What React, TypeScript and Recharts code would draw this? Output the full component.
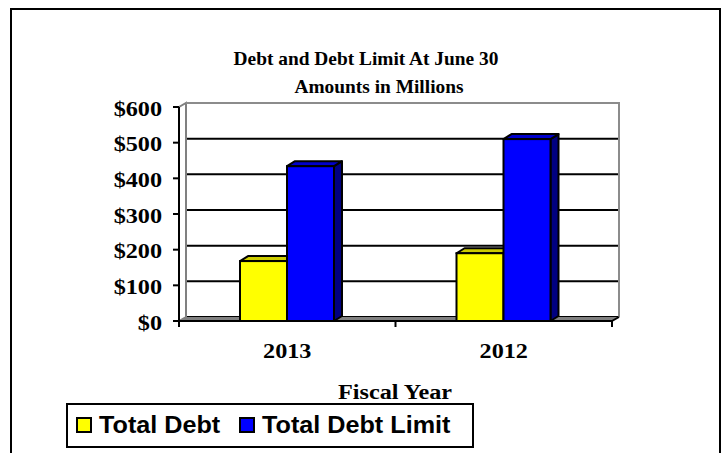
import React from "react";
import { BarChart, Bar, XAxis, YAxis, CartesianGrid, ReferenceArea } from "recharts";

const categories = ["2013", "2012"];
const totalDebt = [168, 190];
const totalDebtLimit = [434, 510];
const yTicks = [0, 100, 200, 300, 400, 500, 600];
const seriesNames = ["Total Debt", "Total Debt Limit"];
const seriesColors = ["#FFFF00", "#0000FF"];
const seriesTopColors = ["#CCCC00", "#0000CC"];
const seriesSideColors = ["#808000", "#000080"];
const titleLines = ["Debt and Debt Limit At June 30", "Amounts in Millions"];
const xAxisTitle = "Fiscal Year";

const data = categories.map((c, i) => ({ year: c, debt: totalDebt[i], limit: totalDebtLimit[i] }));

const DX = 8;
const DY = 5;
const WALL_DX = 7;
const WALL_DY = 4;
const SERIF = "'Liberation Serif', 'Times New Roman', serif";
const SANS = "'Liberation Sans', Arial, sans-serif";

const makeShape = (i: number) => (p: any) => {
  const { x, y, width: w, height: h } = p;
  if (w == null || h == null) return <g />;
  return (
    <g>
      <polygon
        points={`${x + w},${y} ${x + w + DX},${y - DY} ${x + w + DX},${y + h - DY} ${x + w},${y + h}`}
        fill={seriesSideColors[i]}
        stroke="#000"
        strokeWidth={2}
        strokeLinejoin="round"
      />
      <polygon
        points={`${x},${y} ${x + DX},${y - DY} ${x + w + DX},${y - DY} ${x + w},${y}`}
        fill={seriesTopColors[i]}
        stroke="#000"
        strokeWidth={2}
        strokeLinejoin="round"
      />
      <rect x={x} y={y} width={w} height={h} fill={seriesColors[i]} stroke="#000" strokeWidth={2} />
    </g>
  );
};

const WallShape = (p: any) => {
  const { x, y, width: w, height: h } = p;
  if (w == null || h == null) return <g />;
  const b = y + h;
  return (
    <g>
      <polygon
        points={`${x},${b} ${x + WALL_DX},${b - WALL_DY} ${x + WALL_DX},${y - WALL_DY} ${x},${y}`}
        fill="#fff"
        stroke="#808080"
        strokeWidth={2}
      />
      <polyline
        points={`${x + WALL_DX},${y - WALL_DY} ${x + w + WALL_DX},${y - WALL_DY} ${x + w + WALL_DX},${b - WALL_DY}`}
        fill="none"
        stroke="#8c8c8c"
        strokeWidth={2}
      />
      <polygon
        points={`${x},${b} ${x + WALL_DX},${b - WALL_DY} ${x + w + WALL_DX},${b - WALL_DY} ${x + w},${b}`}
        fill="#808080"
        stroke="none"
      />
      <line x1={x + w} y1={b} x2={x + w + WALL_DX} y2={b - WALL_DY} stroke="#000" strokeWidth={2} />
    </g>
  );
};

const gridLine = (p: any) => (
  <line
    key={p.key ?? `g-${p.index}`}
    x1={p.x1 + WALL_DX}
    x2={p.x2 + WALL_DX}
    y1={p.y1 - WALL_DY}
    y2={p.y2 - WALL_DY}
    stroke="#000"
    strokeWidth={2}
  />
);

const YTick = (p: any) => {
  const { x, y, payload } = p;
  return (
    <g transform={`translate(${x},${y}) scale(1.1,1)`}>
      <text x={0} y={0} dy="0.4em" textAnchor="end" fontFamily={SERIF} fontWeight="bold" fontSize={22} fill="#000">
        {`$${payload.value}`}
      </text>
    </g>
  );
};

const XTick = (p: any) => {
  const { x, y, payload, index, width } = p;
  const off = payload.offset != null ? payload.offset : width / (2 * categories.length);
  const last = index === categories.length - 1;
  return (
    <g>
      <line x1={x - off} x2={x - off} y1={y} y2={y + 6} stroke="#000" strokeWidth={2} />
      {last && <line x1={x + off} x2={x + off} y1={y} y2={y + 6} stroke="#000" strokeWidth={2} />}
      <g transform={`translate(${x},${y + 37}) scale(1.1,1)`}>
        <text x={0} y={0} textAnchor="middle" fontFamily={SERIF} fontWeight="bold" fontSize={22} fill="#000">
          {payload.value}
        </text>
      </g>
    </g>
  );
};

export default function App() {
  return (
    <div style={{ position: "absolute", left: 0, top: 0, width: 727, height: 453, background: "#fff" }}>
      <div style={{ position: "absolute", left: 10, top: 8, width: 711, height: 460, borderTop: "2px solid #000", borderLeft: "2px solid #000", borderRight: "2px solid #000", boxSizing: "border-box" }} />
      <div style={{ position: "absolute", left: 0, top: 0 }}>
        <BarChart
          width={727}
          height={453}
          data={data}
          margin={{ top: 107, right: 115, left: 0, bottom: 72 }}
          barSize={47}
          barGap={0}
        >
          <CartesianGrid vertical={false} horizontal={gridLine} />
          <ReferenceArea y1={0} y2={600} ifOverflow="visible" shape={<WallShape />} />
          <XAxis
            dataKey="year"
            height={60}
            tickSize={0}
            tickMargin={0}
            tickLine={false}
            axisLine={{ stroke: "#000", strokeWidth: 2 }}
            tick={<XTick />}
            interval={0}
          />
          <YAxis
            width={179}
            domain={[0, 600]}
            ticks={yTicks}
            interval={0}
            tickSize={6}
            tickMargin={11}
            tickLine={{ stroke: "#000", strokeWidth: 2 }}
            axisLine={{ stroke: "#000", strokeWidth: 2 }}
            tick={<YTick />}
          />
          <Bar dataKey="debt" name={seriesNames[0]} fill={seriesColors[0]} isAnimationActive={false} shape={makeShape(0)} />
          <Bar dataKey="limit" name={seriesNames[1]} fill={seriesColors[1]} isAnimationActive={false} shape={makeShape(1)} />
        </BarChart>
      </div>
      <svg width={727} height={453} style={{ position: "absolute", left: 0, top: 0, pointerEvents: "none" }}>
        <g transform="translate(366,65) scale(1.02,1)">
          <text textAnchor="middle" fontFamily={SERIF} fontWeight="bold" fontSize={19} fill="#000">{titleLines[0]}</text>
        </g>
        <g transform="translate(379,93) scale(1.02,1)">
          <text textAnchor="middle" fontFamily={SERIF} fontWeight="bold" fontSize={19} fill="#000">{titleLines[1]}</text>
        </g>
        <g transform="translate(395,399) scale(1.1,1)">
          <text textAnchor="middle" fontFamily={SERIF} fontWeight="bold" fontSize={22} fill="#000">{xAxisTitle}</text>
        </g>
      </svg>
      <div
        style={{
          position: "absolute",
          left: 66,
          top: 403,
          width: 408,
          height: 45,
          border: "2px solid #000",
          boxSizing: "border-box",
          background: "#fff",
        }}
      >
        <svg width={404} height={41} style={{ position: "absolute", left: 0, top: 0 }}>
          {seriesNames.map((n, i) => {
            const sx = i === 0 ? 9 : 172;
            return (
              <g key={n}>
                <rect x={sx} y={13} width={14} height={14} fill={seriesColors[i]} stroke="#000" strokeWidth={2} />
                <g transform={`translate(${sx + 22},${28}) scale(1.05,1)`}>
                  <text fontFamily={SANS} fontWeight="bold" fontSize={24} fill="#000">{n}</text>
                </g>
              </g>
            );
          })}
        </svg>
      </div>
    </div>
  );
}
